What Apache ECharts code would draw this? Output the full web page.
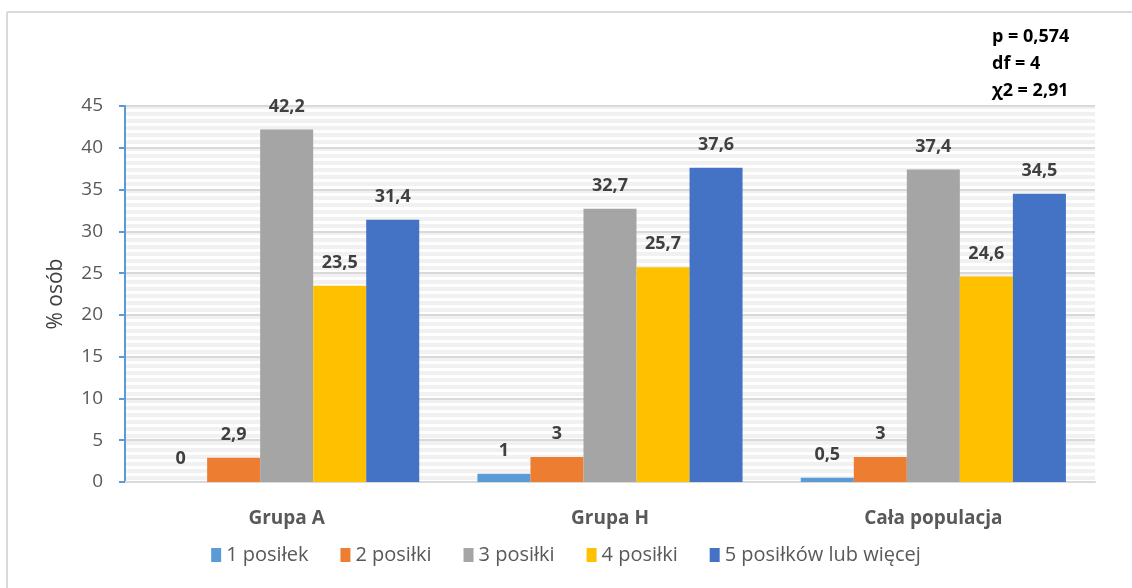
<!DOCTYPE html>
<html>
<head>
<meta charset="utf-8">
<script src="https://cdn.jsdelivr.net/npm/echarts@6/dist/echarts.min.js"></script>
<style>
  html, body { margin: 0; padding: 0; background: #ffffff; }
  #chart { width: 1132px; height: 588px; }
</style>
</head>
<body>
<div id="chart"></div>
<script>
// Groups on the x axis
const categories = ['Grupa A', 'Grupa H', 'Cała populacja'];

// Share of people (%) per number of meals a day
const seriesNames = ['1 posiłek', '2 posiłki', '3 posiłki', '4 posiłki', '5 posiłków lub więcej'];
const meals1 = [0, 1, 0.5];
const meals2 = [2.9, 3, 3];
const meals3 = [42.2, 32.7, 37.4];
const meals4 = [23.5, 25.7, 24.6];
const meals5 = [31.4, 37.6, 34.5];

// Chi-square test summary
const statLines = ['p = 0,574', 'df = 4', 'χ2 = 2,91'];

const colors = ['#5b9bd5', '#ed7d31', '#a5a5a5', '#ffc000', '#4472c4'];
const FONT = '"Open Sans", "Liberation Sans", sans-serif';

// Light horizontal stripes behind the plot area
function stripePattern() {
  const c = document.createElement('canvas');
  c.width = 8; c.height = 7;
  const ctx = c.getContext('2d');
  ctx.fillStyle = '#ffffff';
  ctx.fillRect(0, 0, 8, 7);
  ctx.fillStyle = '#f1f1f1';
  ctx.fillRect(0, 0, 8, 4);
  return c;
}

const chart = echarts.init(document.getElementById('chart'), null, { renderer: 'canvas' });

const values = [meals1, meals2, meals3, meals4, meals5];

const option = {
  animation: false,
  color: colors,
  grid: {
    left: 125, right: 37, top: 106, bottom: 106,
    show: true,
    borderWidth: 0,
    backgroundColor: { image: stripePattern(), repeat: 'repeat' }
  },
  legend: {
    bottom: 18,
    left: 'center',
    itemWidth: 10,
    itemHeight: 14,
    itemGap: 32,
    icon: 'rect',
    textStyle: { fontFamily: FONT, fontSize: 20, color: '#595959' },
    data: seriesNames
  },
  xAxis: {
    type: 'category',
    data: categories,
    axisLine: { show: true, lineStyle: { color: '#d9d9d9', width: 2 } },
    axisTick: { show: false },
    axisLabel: {
      margin: 27,
      fontFamily: FONT, fontSize: 19, fontWeight: 'bold', color: '#595959'
    }
  },
  yAxis: {
    type: 'value',
    min: 0, max: 45, interval: 5,
    name: '% osób',
    nameLocation: 'middle',
    nameGap: 58,
    nameRotate: 90,
    nameTextStyle: { fontFamily: FONT, fontSize: 21, color: '#404040' },
    axisLine: { show: true, lineStyle: { color: '#5b9bd5', width: 2 } },
    axisTick: { show: true, inside: false, length: 6, lineStyle: { color: '#5b9bd5', width: 2 } },
    axisLabel: { margin: 22, fontFamily: FONT, fontSize: 19, color: '#595959' },
    splitLine: { show: true, lineStyle: { color: '#d9d9d9', width: 2 } }
  },
  series: seriesNames.map((name, i) => ({
    name,
    type: 'bar',
    data: values[i],
    barGap: '0%',
    barCategoryGap: '18%',
    itemStyle: { color: colors[i] },
    label: {
      show: true,
      position: 'top',
      distance: 14,
      fontFamily: FONT,
      fontSize: 18,
      fontWeight: 'bold',
      color: '#404040',
      formatter: p => String(p.value).replace('.', ',')
    }
  })),
  graphic: [
    // Outer frame (top and left edges)
    { type: 'line', shape: { x1: 7, y1: 12, x2: 1132, y2: 12 }, style: { stroke: '#d9d9d9', lineWidth: 2 } },
    { type: 'line', shape: { x1: 7, y1: 12, x2: 7, y2: 588 }, style: { stroke: '#d9d9d9', lineWidth: 2 } },
    ...statLines.map((t, i) => ({
      type: 'text',
      left: 992,
      top: 28 + i * 27,
      style: { text: t, font: 'bold 18px ' + FONT, fill: '#000000' }
    }))
  ]
};

chart.setOption(option);
</script>
</body>
</html>
